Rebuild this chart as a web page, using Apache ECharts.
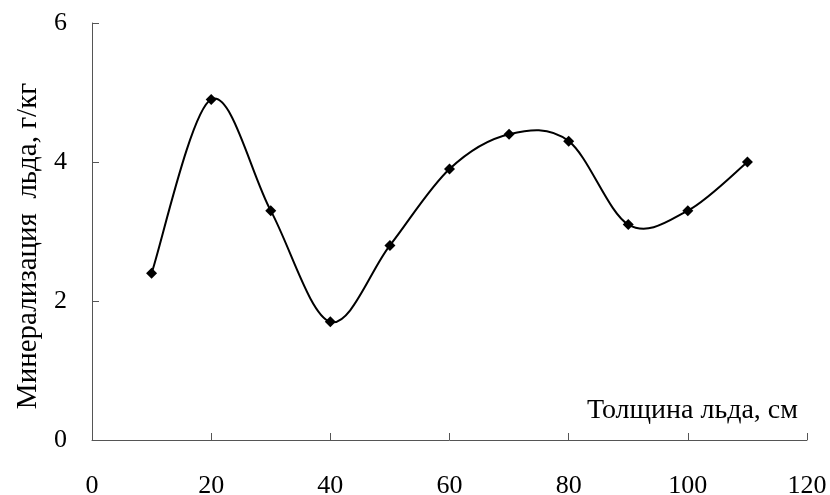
<!DOCTYPE html>
<html>
<head>
<meta charset="utf-8">
<script src="https://cdn.jsdelivr.net/npm/echarts@6/dist/echarts.min.js"></script>
<style>
  html, body { margin: 0; padding: 0; background: #fff; }
  #chart { width: 830px; height: 495px; }
</style>
</head>
<body>
<div id="chart"></div>
<script>
// толщина льда, см
const thickness = [10, 20, 30, 40, 50, 60, 70, 80, 90, 100, 110];
// минерализация, г/кг
const salinity = [2.4, 4.9, 3.3, 1.7, 2.8, 3.9, 4.4, 4.3, 3.1, 3.3, 4.0];

const xTitle = 'Толщина льда, см';
const yTitle = 'Минерализация  льда, г/кг';

const font = '"Liberation Serif", "Times New Roman", serif';
const points = thickness.map((x, i) => [x, salinity[i]]);

// сглаженная кривая как в Excel (Catmull-Rom -> Bezier), по пикселям осей
function renderSpline(params, api) {
    const i = params.dataIndex;
    const n = points.length;
    if (i >= n - 1) return null;
    const p = j => api.coord(points[Math.max(0, Math.min(n - 1, j))]);
    const p0 = p(i - 1), p1 = p(i), p2 = p(i + 1), p3 = p(i + 2);
    return {
        type: 'bezierCurve',
        shape: {
            x1: p1[0], y1: p1[1],
            x2: p2[0], y2: p2[1],
            cpx1: p1[0] + (p2[0] - p0[0]) / 6,
            cpy1: p1[1] + (p2[1] - p0[1]) / 6,
            cpx2: p2[0] - (p3[0] - p1[0]) / 6,
            cpy2: p2[1] - (p3[1] - p1[1]) / 6
        },
        style: { stroke: '#000', lineWidth: 2, fill: null }
    };
}

const chart = echarts.init(document.getElementById('chart'));

chart.setOption({
    animation: false,
    backgroundColor: '#fff',
    grid: {
        left: 92,
        right: 23,
        top: 23,
        bottom: 55,
        outerBoundsMode: 'none'
    },
    xAxis: {
        type: 'value',
        min: 0,
        max: 120,
        interval: 20,
        axisLine: { lineStyle: { color: '#555', width: 1 } },
        axisTick: { inside: true, length: 7, lineStyle: { color: '#555' } },
        axisLabel: { color: '#000', fontSize: 26, fontFamily: font, margin: 33 },
        splitLine: { show: false }
    },
    yAxis: {
        type: 'value',
        min: 0,
        max: 6,
        interval: 2,
        axisLine: { show: true, lineStyle: { color: '#555', width: 1 } },
        axisTick: { show: true, inside: true, length: 7, lineStyle: { color: '#555' } },
        axisLabel: { color: '#000', fontSize: 26, fontFamily: font, margin: 25 },
        splitLine: { show: false }
    },
    graphic: [{
        type: 'text',
        x: 28,
        y: 246,
        rotation: Math.PI / 2,
        style: {
            text: yTitle,
            fill: '#000',
            font: '29px ' + font,
            align: 'center',
            verticalAlign: 'middle'
        }
    }, {
        type: 'text',
        x: 798,
        y: 411,
        style: {
            text: xTitle,
            fill: '#000',
            font: '28px ' + font,
            align: 'right',
            verticalAlign: 'middle'
        }
    }],
    series: [{
        type: 'custom',
        data: points,
        renderItem: renderSpline,
        silent: true,
        z: 2
    }, {
        type: 'scatter',
        data: points,
        symbol: 'diamond',
        symbolSize: 11,
        itemStyle: { color: '#000', opacity: 1 },
        z: 3
    }]
});
</script>
</body>
</html>
